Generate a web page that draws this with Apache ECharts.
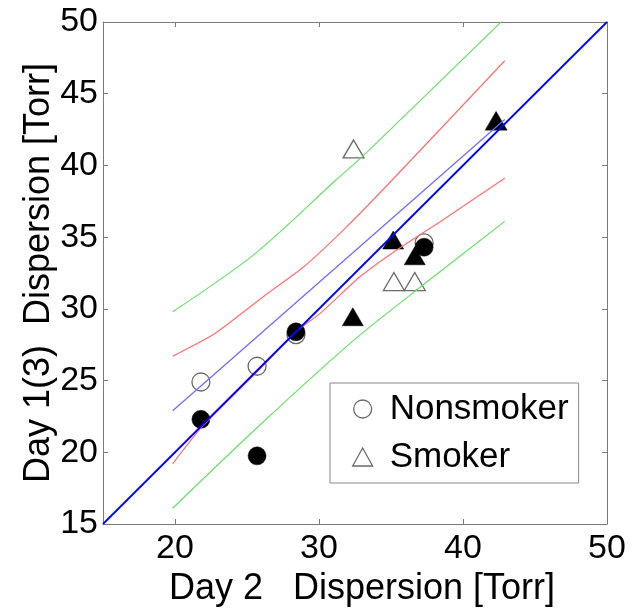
<!DOCTYPE html>
<html>
<head>
<meta charset="utf-8">
<script src="https://cdn.jsdelivr.net/npm/echarts@6/dist/echarts.min.js"></script>
<style>
  html, body { margin: 0; padding: 0; background: #fff; }
  #chart { width: 642px; height: 612px; }
</style>
</head>
<body>
<div id="chart"></div>
<script>
// ticks
var xTicks = [20, 30, 40, 50];

// markers: open = day 1, filled = day 3
var nonsmokerDay1 = [[21.8, 24.9], [25.7, 26.0], [28.4, 28.2], [37.3, 34.6]];
var nonsmokerDay3 = [[21.8, 22.3], [25.7, 19.75], [28.4, 28.4], [37.3, 34.3]];
var smokerDay1 = [[32.4, 41.15], [35.2, 31.9], [36.65, 31.9], [42.3, 43.1]];
var smokerDay3 = [[32.35, 29.45], [35.15, 34.8], [36.65, 33.7], [42.3, 43.1]];

// lines
var identityLine = [[15, 15], [50, 50]];
var fitLine = [[19.84, 22.9], [42.9, 43.2]];
var upperConf = [[19.84, 26.7], [22.8, 28.3], [26.2, 30.9], [28.9, 32.9], [31.9, 35.7], [35.1, 39.0], [42.9, 47.3]];
var lowerConf = [[19.84, 19.2], [21.9, 21.8], [25.5, 25.4], [28.4, 28.4], [30.1, 29.7], [32.8, 32.2], [35.1, 33.9], [38.6, 36.2], [42.9, 39.1]];
var upperPred = [[19.84, 29.8], [25.5, 33.8], [31.2, 39.0], [33.1, 40.7], [42.9, 50.25]];
var lowerPred = [[19.84, 16.1], [25.9, 21.9], [32.4, 27.8], [37.4, 31.8], [42.9, 36.1]];

var font = 'Liberation Sans, Arial, Helvetica, sans-serif';
var axisGray = '#7a7a7a';
var openEdge = '#6a6a6a';

var chart = echarts.init(document.getElementById('chart'));

function lineSeries(name, data, color, width, smooth) {
    return {
        name: name,
        type: 'line',
        data: data,
        symbol: 'none',
        smooth: smooth,
        z: 3,
        lineStyle: { color: color, width: width },
        silent: true
    };
}

chart.setOption({
    animation: false,
    backgroundColor: '#fff',
    textStyle: { fontFamily: font },
    grid: { left: 103, right: 35, top: 22, bottom: 88, outerBoundsMode: 'none' },
    legend: {
        orient: 'vertical',
        left: 330,
        top: 383,
        padding: [8, 10, 8, 22],
        itemGap: 12,
        itemWidth: 20,
        itemHeight: 18,
        borderColor: '#888',
        borderWidth: 1,
        borderRadius: 0,
        backgroundColor: '#fff',
        textStyle: { fontSize: 35, color: '#000', fontFamily: font, lineHeight: 36, padding: [0, 0, 0, 12] },
        data: [
            { name: 'Nonsmoker', icon: 'circle', itemStyle: { color: 'transparent', borderColor: openEdge, borderWidth: 1.3, opacity: 1 } },
            { name: 'Smoker', icon: 'triangle', itemStyle: { color: 'transparent', borderColor: openEdge, borderWidth: 1.3, opacity: 1 } }
        ]
    },
    xAxis: [
        {
            type: 'value', min: 15, max: 50, position: 'bottom',
            name: 'Day 2   Dispersion [Torr]',
            nameLocation: 'middle',
            nameGap: 40,
            nameTextStyle: { fontSize: 36, color: '#000', fontFamily: font, padding: [0, 0, 0, 14] },
            axisLine: { show: true, lineStyle: { color: axisGray, width: 1 } },
            axisTick: { show: true, inside: true, length: 5, customValues: xTicks, lineStyle: { color: axisGray } },
            axisLabel: { customValues: xTicks, fontSize: 34, color: '#000', margin: 8, fontFamily: font },
            splitLine: { show: false }
        },
        {
            type: 'value', min: 15, max: 50, position: 'top',
            axisLine: { show: true, lineStyle: { color: axisGray, width: 1 } },
            axisTick: { show: true, inside: true, length: 5, customValues: xTicks, lineStyle: { color: axisGray } },
            axisLabel: { show: false },
            splitLine: { show: false }
        }
    ],
    yAxis: [
        {
            type: 'value', min: 15, max: 50, interval: 5, position: 'left',
            name: 'Day 1(3)  Dispersion [Torr]',
            nameLocation: 'middle',
            nameGap: 46,
            nameMoveOverlap: false,
            nameTextStyle: { fontSize: 36, color: '#000', fontFamily: font },
            axisLine: { show: true, lineStyle: { color: axisGray, width: 1 } },
            axisTick: { show: true, inside: true, length: 5, lineStyle: { color: axisGray } },
            axisLabel: { fontSize: 34, color: '#000', margin: 5, fontFamily: font },
            splitLine: { show: false }
        },
        {
            type: 'value', min: 15, max: 50, interval: 5, position: 'right',
            axisLine: { show: true, lineStyle: { color: axisGray, width: 1 } },
            axisTick: { show: true, inside: true, length: 5, lineStyle: { color: axisGray } },
            axisLabel: { show: false },
            splitLine: { show: false }
        }
    ],
    series: [
        {
            name: 'Nonsmoker', type: 'scatter', data: nonsmokerDay1,
            symbol: 'circle', symbolSize: 18, z: 2,
            itemStyle: { color: 'transparent', borderColor: openEdge, borderWidth: 1.3, opacity: 1 }
        },
        {
            name: 'Smoker', type: 'scatter', data: smokerDay1,
            symbol: 'triangle', symbolSize: [21, 18], z: 2,
            itemStyle: { color: 'transparent', borderColor: openEdge, borderWidth: 1.3, opacity: 1 }
        },
        {
            name: 'Nonsmoker day 3', type: 'scatter', data: nonsmokerDay3,
            symbol: 'circle', symbolSize: 18, z: 2,
            itemStyle: { color: '#000', borderColor: '#000', borderWidth: 0.5, opacity: 1 }
        },
        {
            name: 'Smoker day 3', type: 'scatter', data: smokerDay3,
            symbol: 'triangle', symbolSize: [21, 18], z: 2,
            itemStyle: { color: '#000', borderColor: '#000', borderWidth: 0.5, opacity: 1 }
        },
        lineSeries('upper prediction', upperPred, '#66e066', 1.2, 0.3),
        lineSeries('lower prediction', lowerPred, '#66e066', 1.2, 0.3),
        lineSeries('upper confidence', upperConf, '#ff6e6e', 1.2, 0.2),
        lineSeries('lower confidence', lowerConf, '#ff6e6e', 1.2, 0.2),
        lineSeries('fit', fitLine, '#6a6aff', 1.2, false),
        lineSeries('identity', identityLine, '#0000ff', 1.8, false)
    ]
});
</script>
</body>
</html>
